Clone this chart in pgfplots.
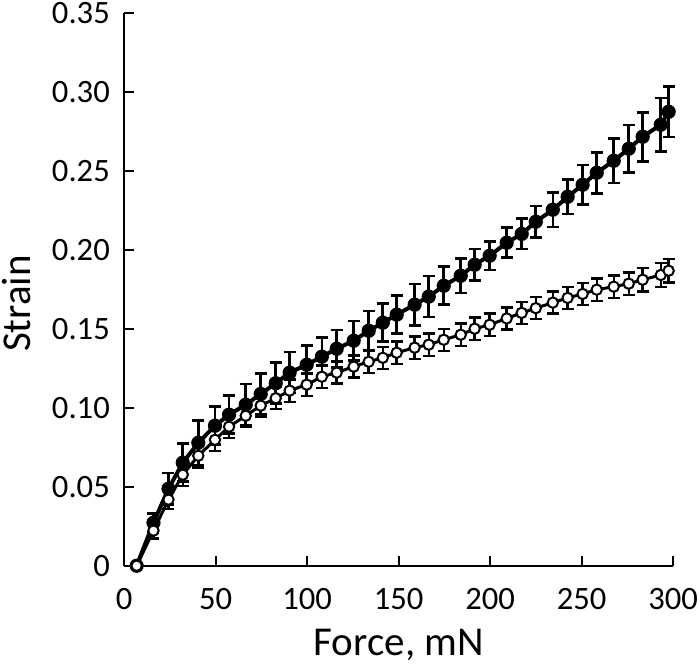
\documentclass[border=0pt]{standalone}
\usepackage{fontspec}
\setmainfont{Carlito}
\usepackage{pgfplots}
\usepackage{pgfplotstable}
\pgfplotsset{compat=1.18}

% filled series: x, mean strain, sd
\pgfplotstableread{
x     y       e
6.8   0.0000  0.000
16.0  0.0272  0.006
24.2  0.0487  0.010
32.0  0.0652  0.012
40.5  0.0778  0.014
49.6  0.0886  0.012
57.3  0.0956  0.012
66.4  0.1019  0.013
74.6  0.1087  0.013
82.8  0.1155  0.013
90.4  0.1222  0.013
99.7  0.1272  0.012
108.0 0.1323  0.012
116.1 0.1373  0.012
125.4 0.1424  0.0125
133.6 0.1487  0.0125
141.3 0.1538  0.012
148.9 0.1589  0.012
158.7 0.1652  0.013
166.4 0.1703  0.013
174.6 0.1772  0.012
183.9 0.1835  0.011
191.5 0.1905  0.010
199.7 0.1962  0.009
209.0 0.2044  0.0095
217.2 0.2100  0.0096
224.9 0.2177  0.010
234.2 0.2253  0.011
242.3 0.2335  0.011
250.5 0.2411  0.0125
258.2 0.2487  0.013
267.5 0.2563  0.014
275.7 0.2639  0.015
283.3 0.2715  0.0155
293.2 0.2791  0.017
297.5 0.2873  0.016
}\filled

% open series
\pgfplotstableread{
x     y       e
6.8   0.0000  0.000
16.0  0.0222  0.005
24.2  0.0418  0.006
32.0  0.0576  0.007
40.5  0.0696  0.0075
49.6  0.0797  0.007
57.3  0.0880  0.007
66.4  0.0949  0.007
74.6  0.1013  0.007
82.8  0.1060  0.007
90.4  0.1108  0.007
99.7  0.1146  0.007
108.0 0.1196  0.007
116.1 0.1222  0.007
125.4 0.1260  0.007
133.6 0.1291  0.007
141.3 0.1316  0.007
148.9 0.1348  0.007
158.7 0.1380  0.007
166.4 0.1399  0.007
174.6 0.1430  0.007
183.9 0.1462  0.007
191.5 0.1500  0.007
199.7 0.1525  0.007
209.0 0.1565  0.007
217.2 0.1600  0.007
224.9 0.1630  0.007
234.2 0.1665  0.007
242.3 0.1695  0.007
250.5 0.1720  0.007
258.2 0.1747  0.007
267.5 0.1766  0.007
275.7 0.1785  0.007
283.3 0.1810  0.0075
293.2 0.1840  0.0075
297.5 0.1867  0.0075
}\open

\begin{document}
\begin{tikzpicture}
\begin{axis}[
  scale only axis,
  width=274.5pt, height=276.5pt,
  xmin=0, xmax=300, ymin=0, ymax=0.35,
  axis lines*=left,
  axis line style={line width=1.1pt, -},
  tick align=inside,
  major tick length=5pt,
  every tick/.style={black, line width=1.1pt},
  xtick={0,50,...,300},
  ytick={0,0.05,0.10,0.15,0.20,0.25,0.30,0.35},
  yticklabels={0,0.05,0.10,0.15,0.20,0.25,0.30,0.35},
  /pgf/number format/assume math mode=true,
  ticklabel style={font=\fontsize{16.3}{19}\selectfont, inner sep=1pt},
  xticklabel style={anchor=north, yshift=-10pt},
  yticklabel style={anchor=east, xshift=-6pt},
  xlabel={Force, mN},
  ylabel={Strain},
  label style={font=\fontsize{20.5}{24}\selectfont, inner sep=1pt},
  xlabel style={at={(axis description cs:0.5,-0.163)}, anchor=base},
  ylabel style={at={(axis description cs:-0.1712,0.474)}, anchor=base},
  clip=false,
]
\addplot[black, line width=2pt, mark=*, mark size=3.3pt,
  mark options={solid, fill=black, line width=0.5pt},
  error bars/.cd, y dir=both, y explicit,
  error bar style={line width=1.3pt},
  error mark options={rotate=90, mark size=3pt, line width=1.3pt}]
  table[x=x, y=y, y error=e] {\filled};
\addplot[black, line width=1.5pt, mark=*, mark size=2.6pt,
  mark options={solid, fill=white, line width=1pt},
  error bars/.cd, y dir=both, y explicit,
  error bar style={line width=1.2pt},
  error mark options={rotate=90, mark size=3pt, line width=1.2pt}]
  table[x=x, y=y, y error=e] {\open};
\end{axis}
\end{tikzpicture}
\end{document}
